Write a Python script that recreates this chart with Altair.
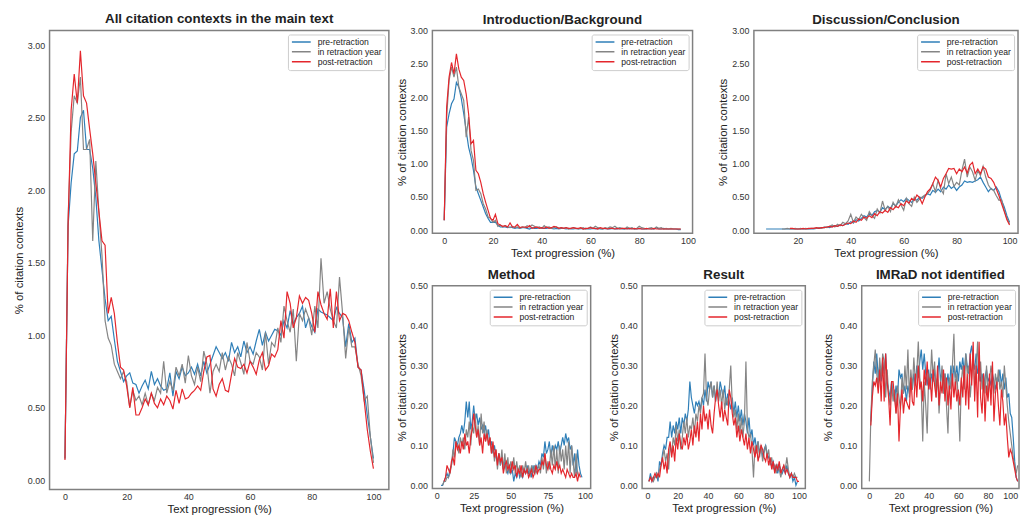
import altair as alt
import pandas as pd

FONT = "Liberation Sans"
SERIES = ["pre-retraction", "in retraction year", "post-retraction"]
COLORS = ["#2f7fb8", "#858585", "#e4262c"]
XTITLE = "Text progression (%)"
YTITLE = "% of citation contexts"

# ---------------- All citation contexts (x starts at 0) ----------------
main_start = [0, 0, 0]
main_pre = [0.15, 1.75, 2.05, 2.25, 2.27, 2.50, 2.55, 2.28, 2.28, 2.15, 1.95, 1.65, 1.45, 1.25, 1.10, 1.13, 0.97, 0.82, 0.75, 0.68,
            0.72, 0.74, 0.67, 0.66, 0.60, 0.65, 0.69, 0.63, 0.75, 0.66, 0.70, 0.65, 0.62, 0.63, 0.74, 0.58, 0.75, 0.70, 0.78, 0.72,
            0.74, 0.78, 0.73, 0.80, 0.72, 0.82, 0.74, 0.80, 0.86, 0.92, 0.88, 0.84, 0.88, 0.82, 0.95, 0.88, 0.92, 0.85, 0.96, 0.88,
            0.92, 0.87, 0.96, 1.04, 0.93, 1.02, 0.96, 1.00, 1.04, 1.03, 1.00, 1.10, 1.05, 1.17, 1.08, 1.12, 1.15, 1.20, 1.05, 1.12,
            1.06, 1.02, 1.18, 1.16, 1.15, 1.14, 1.12, 1.10, 1.19, 1.15, 1.12, 0.92, 1.08, 0.95, 0.98, 0.78, 0.76, 0.62, 0.45, 0.30, 0.15]
main_in = [0.15, 1.80, 2.40, 2.65, 2.60, 2.78, 2.28, 2.28, 2.35, 1.65, 2.20, 1.85, 1.55, 1.10, 0.98, 0.93, 0.80, 0.75, 0.70, 0.75,
           0.68, 0.50, 0.62, 0.55, 0.58, 0.52, 0.60, 0.52, 0.60, 0.55, 0.64, 0.60, 0.82, 0.60, 0.68, 0.62, 0.78, 0.72, 0.80, 0.67,
           0.86, 0.72, 0.66, 0.78, 0.68, 0.89, 0.80, 0.60, 0.75, 0.80, 0.75, 0.88, 0.76, 0.85, 0.80, 0.72, 0.88, 0.81, 0.73, 0.95,
           0.82, 0.80, 0.88, 0.85, 0.76, 1.02, 0.80, 0.95, 0.92, 1.05, 0.95, 1.20, 1.10, 1.02, 1.18, 0.82, 1.15, 1.10, 1.18, 1.12,
           1.00, 1.20, 1.05, 1.53, 1.22, 1.30, 1.18, 1.10, 1.05, 1.40, 1.15, 0.84, 1.05, 0.92, 0.92, 0.80, 0.72, 0.55, 0.58, 0.30, 0.12]
main_post = [0.14, 1.75, 2.55, 2.80, 2.60, 2.96, 2.65, 2.60, 2.42, 2.25, 2.05, 1.85, 1.65, 1.62, 1.15, 1.26, 1.15, 0.95, 0.78, 0.76,
             0.65, 0.50, 0.64, 0.45, 0.45, 0.50, 0.56, 0.52, 0.60, 0.53, 0.50, 0.56, 0.52, 0.58, 0.55, 0.49, 0.62, 0.53, 0.63, 0.56,
             0.57, 0.60, 0.62, 0.65, 0.62, 0.75, 0.85, 0.86, 0.63, 0.58, 0.66, 0.70, 0.62, 0.61, 0.73, 0.84, 0.78, 0.77, 0.80, 0.74,
             0.82, 0.78, 0.73, 0.83, 0.88, 0.76, 0.79, 0.87, 0.85, 0.90, 1.10, 0.98, 1.30, 1.22, 1.05, 1.12, 1.27, 1.22, 1.26, 1.24,
             1.15, 1.02, 1.30, 1.21, 1.15, 1.11, 1.32, 1.05, 1.30, 1.10, 1.15, 1.14, 1.10, 1.02, 0.95, 0.78, 0.76, 0.55, 0.35, 0.20, 0.08]

# ---------------- Introduction/Background (x starts at 0) ----------------
intro_start = [0, 0, 0]
intro_pre = [0.15, 1.55, 1.75, 1.90, 1.97, 2.22, 2.15, 1.98, 1.75, 1.50, 1.25, 1.10, 0.90, 0.65, 0.55, 0.45, 0.35, 0.25, 0.18, 0.12,
             0.12, 0.12, 0.08, 0.05, 0.05, 0.05, 0.04, 0.05, 0.04, 0.03, 0.04, 0.03, 0.04, 0.04, 0.03, 0.02, 0.04, 0.03, 0.03, 0.04,
             0.03, 0.03, 0.03, 0.04, 0.03, 0.02, 0.03, 0.02, 0.03, 0.03, 0.02, 0.03, 0.02, 0.02, 0.03, 0.02, 0.03, 0.02, 0.03, 0.02,
             0.02, 0.03, 0.02, 0.03, 0.02, 0.02, 0.03, 0.02, 0.02, 0.03, 0.02, 0.02, 0.03, 0.02, 0.02, 0.03, 0.02, 0.03, 0.02, 0.02,
             0.03, 0.02, 0.02, 0.02, 0.03, 0.02, 0.02, 0.04, 0.02, 0.02, 0.03, 0.02, 0.02, 0.02, 0.02, 0.02, 0.01, 0.01]
intro_in = [0.15, 1.70, 2.25, 2.45, 2.30, 2.45, 2.15, 2.05, 1.95, 1.40, 1.70, 1.20, 1.05, 0.60, 0.62, 0.55, 0.40, 0.32, 0.20, 0.18,
            0.12, 0.15, 0.06, 0.08, 0.05, 0.07, 0.05, 0.04, 0.06, 0.04, 0.05, 0.03, 0.05, 0.04, 0.07, 0.05, 0.08, 0.06, 0.04, 0.05,
            0.03, 0.07, 0.04, 0.05, 0.03, 0.04, 0.05, 0.03, 0.04, 0.03, 0.04, 0.02, 0.03, 0.04, 0.03, 0.02, 0.03, 0.04, 0.02, 0.03,
            0.05, 0.03, 0.06, 0.04, 0.03, 0.02, 0.04, 0.03, 0.05, 0.04, 0.06, 0.03, 0.04, 0.03, 0.02, 0.05, 0.03, 0.04, 0.02, 0.03,
            0.06, 0.04, 0.03, 0.02, 0.03, 0.04, 0.02, 0.05, 0.03, 0.04, 0.02, 0.03, 0.02, 0.03, 0.02, 0.02, 0.02, 0.02]
intro_post = [0.15, 1.85, 2.30, 2.52, 2.35, 2.65, 2.42, 2.30, 2.25, 2.05, 1.75, 1.30, 1.35, 0.90, 0.85, 0.72, 0.55, 0.42, 0.30, 0.18,
              0.15, 0.24, 0.10, 0.08, 0.06, 0.07, 0.05, 0.11, 0.05, 0.05, 0.09, 0.04, 0.05, 0.05, 0.04, 0.07, 0.03, 0.04, 0.05, 0.03,
              0.04, 0.03, 0.05, 0.03, 0.04, 0.06, 0.05, 0.03, 0.04, 0.03, 0.04, 0.03, 0.03, 0.04, 0.03, 0.03, 0.04, 0.02, 0.03, 0.03,
              0.04, 0.03, 0.03, 0.02, 0.04, 0.03, 0.03, 0.02, 0.03, 0.03, 0.02, 0.03, 0.02, 0.03, 0.03, 0.02, 0.03, 0.02, 0.03, 0.02,
              0.03, 0.02, 0.02, 0.03, 0.02, 0.02, 0.03, 0.02, 0.02, 0.02, 0.02, 0.02, 0.02, 0.02, 0.02, 0.02, 0.02, 0.02]

# ---------------- Discussion/Conclusion ----------------
disc_start = [8, 14, 17]
disc_pre = [0.02, 0.02, 0.02, 0.02, 0.02, 0.02, 0.02, 0.02, 0.02, 0.02, 0.02, 0.02, 0.02, 0.02, 0.02, 0.02, 0.02, 0.02,
            0.02, 0.03, 0.03, 0.04, 0.04, 0.05, 0.04, 0.06, 0.07, 0.06, 0.08, 0.07, 0.10, 0.09, 0.13, 0.11, 0.16, 0.14, 0.18, 0.22,
            0.20, 0.25, 0.22, 0.28, 0.30, 0.27, 0.34, 0.31, 0.36, 0.33, 0.40, 0.37, 0.42, 0.46, 0.43, 0.48, 0.45, 0.42, 0.47, 0.45,
            0.50, 0.48, 0.52, 0.55, 0.53, 0.60, 0.57, 0.62, 0.58, 0.65, 0.62, 0.68, 0.63, 0.66, 0.60, 0.65, 0.68, 0.74, 0.72, 0.73,
            0.72, 0.74, 0.76, 0.80, 0.72, 0.65, 0.58, 0.63, 0.60, 0.65, 0.58, 0.45, 0.35, 0.22, 0.12]
disc_in = [0.02, 0.02, 0.03, 0.02, 0.02, 0.03, 0.02, 0.03, 0.02, 0.03, 0.02, 0.03,
           0.03, 0.03, 0.04, 0.03, 0.05, 0.04, 0.06, 0.08, 0.05, 0.09, 0.07, 0.12, 0.10, 0.14, 0.24, 0.12, 0.20, 0.16, 0.24, 0.19,
           0.15, 0.28, 0.22, 0.18, 0.32, 0.26, 0.44, 0.30, 0.36, 0.28, 0.42, 0.35, 0.46, 0.38, 0.30, 0.48, 0.40, 0.36, 0.50, 0.42,
           0.47, 0.50, 0.53, 0.55, 0.60, 0.70, 0.58, 0.75, 0.62, 0.55, 0.85, 0.70, 0.80, 0.66, 0.72, 0.68, 0.90, 1.07, 0.80, 0.95,
           0.88, 0.75, 0.90, 0.82, 0.96, 0.80, 0.68, 0.62, 0.60, 0.52, 0.45, 0.46, 0.30, 0.18, 0.10]
disc_post = [0.03, 0.03, 0.02, 0.02, 0.02, 0.03, 0.02, 0.03, 0.03,
             0.03, 0.04, 0.03, 0.04, 0.04, 0.05, 0.06, 0.05, 0.07, 0.06, 0.08, 0.07, 0.09, 0.11, 0.10, 0.14, 0.12, 0.17, 0.15, 0.20,
             0.18, 0.22, 0.19, 0.25, 0.22, 0.28, 0.26, 0.30, 0.27, 0.34, 0.31, 0.36, 0.34, 0.40, 0.37, 0.44, 0.41, 0.48, 0.45, 0.53,
             0.49, 0.40, 0.50, 0.58, 0.62, 0.70, 0.80, 0.75, 0.65, 0.78, 0.85, 0.93, 0.92, 0.93, 0.85, 0.92, 0.88, 0.95, 0.86, 0.98,
             1.02, 0.85, 0.92, 0.85, 0.95, 0.92, 0.80, 0.78, 0.72, 0.62, 0.52, 0.40, 0.28, 0.16, 0.08]

# ---------------- Method ----------------
meth_start = [3, 4, 5]
meth_pre = [0.00, 0.00, 0.01, 0.02, 0.03, 0.02, 0.04, 0.05, 0.08, 0.12, 0.11, 0.10, 0.12, 0.13, 0.15, 0.13, 0.16, 0.21, 0.17, 0.21,
            0.14, 0.16, 0.20, 0.16, 0.18, 0.15, 0.17, 0.14, 0.15, 0.13, 0.15, 0.12, 0.14, 0.10, 0.11, 0.08, 0.10, 0.07, 0.06, 0.08,
            0.05, 0.07, 0.04, 0.06, 0.04, 0.03, 0.05, 0.03, 0.04, 0.01, 0.03, 0.02, 0.04, 0.02, 0.03, 0.02, 0.04, 0.03, 0.05, 0.03,
            0.04, 0.02, 0.05, 0.03, 0.05, 0.04, 0.06, 0.05, 0.08, 0.07, 0.11, 0.08, 0.09, 0.11, 0.07, 0.10, 0.08, 0.10, 0.09, 0.11,
            0.08, 0.10, 0.12, 0.10, 0.13, 0.11, 0.12, 0.09, 0.10, 0.05, 0.08, 0.03, 0.09, 0.05, 0.03, 0.02]
meth_in = [0.00, 0.01, 0.01, 0.02, 0.02, 0.03, 0.05, 0.09, 0.07, 0.11, 0.10, 0.08, 0.12, 0.10, 0.12, 0.09, 0.14, 0.12, 0.16, 0.10,
           0.15, 0.13, 0.18, 0.12, 0.15, 0.10, 0.18, 0.13, 0.16, 0.11, 0.14, 0.10, 0.12, 0.08, 0.10, 0.06, 0.09, 0.04, 0.08, 0.05,
           0.09, 0.04, 0.08, 0.03, 0.07, 0.03, 0.06, 0.04, 0.07, 0.03, 0.06, 0.03, 0.05, 0.02, 0.05, 0.03, 0.06, 0.03, 0.05, 0.02,
           0.05, 0.03, 0.05, 0.03, 0.04, 0.05, 0.03, 0.07, 0.04, 0.08, 0.03, 0.06, 0.04, 0.09, 0.05, 0.10, 0.04, 0.09, 0.03, 0.10,
           0.06, 0.09, 0.04, 0.10, 0.05, 0.11, 0.03, 0.10, 0.06, 0.02, 0.08, 0.03, 0.02]
meth_post = [0.01, 0.02, 0.05, 0.04, 0.03, 0.06, 0.07, 0.05, 0.11, 0.09, 0.10, 0.08, 0.11, 0.09, 0.13, 0.10, 0.11, 0.08, 0.12, 0.14,
             0.18, 0.15, 0.12, 0.14, 0.10, 0.12, 0.08, 0.13, 0.11, 0.13, 0.10, 0.12, 0.08, 0.11, 0.07, 0.09, 0.05, 0.08, 0.06, 0.07,
             0.03, 0.05, 0.06, 0.04, 0.05, 0.03, 0.06, 0.04, 0.05, 0.02, 0.04, 0.03, 0.05, 0.02, 0.04, 0.03, 0.04, 0.02, 0.03, 0.04,
             0.02, 0.03, 0.05, 0.03, 0.04, 0.04, 0.06, 0.05, 0.08, 0.05, 0.04, 0.06, 0.04, 0.03, 0.05, 0.04, 0.06, 0.04, 0.05, 0.03,
             0.04, 0.03, 0.02, 0.04, 0.03, 0.02, 0.03, 0.02, 0.02, 0.03, 0.01, 0.03, 0.02]

# ---------------- Result ----------------
res_start = [1, 1, 1]
res_pre = [0.01, 0.03, 0.01, 0.02, 0.02, 0.03, 0.01, 0.06, 0.05, 0.08, 0.10, 0.09, 0.12, 0.12, 0.16, 0.12, 0.15, 0.13, 0.16, 0.14,
           0.17, 0.13, 0.17, 0.15, 0.18, 0.16, 0.19, 0.26, 0.22, 0.20, 0.18, 0.21, 0.20, 0.21, 0.19, 0.22, 0.20, 0.24, 0.21, 0.26,
           0.24, 0.26, 0.22, 0.25, 0.21, 0.24, 0.22, 0.26, 0.24, 0.22, 0.25, 0.20, 0.23, 0.21, 0.19, 0.22, 0.18, 0.21, 0.17, 0.20,
           0.16, 0.19, 0.15, 0.18, 0.16, 0.13, 0.17, 0.12, 0.14, 0.10, 0.12, 0.09, 0.11, 0.08, 0.10, 0.07, 0.09, 0.10, 0.08, 0.07,
           0.06, 0.05, 0.06, 0.04, 0.05, 0.03, 0.05, 0.04, 0.03, 0.04, 0.03, 0.05, 0.03, 0.02, 0.03, 0.01, 0.02, 0.00, 0.01]
res_in = [0.01, 0.02, 0.02, 0.01, 0.02, 0.03, 0.02, 0.04, 0.05, 0.07, 0.09, 0.06, 0.08, 0.04, 0.10, 0.08, 0.12, 0.10, 0.15, 0.11,
          0.14, 0.09, 0.12, 0.16, 0.13, 0.17, 0.12, 0.15, 0.14, 0.17, 0.13, 0.18, 0.16, 0.20, 0.18, 0.22, 0.23, 0.33, 0.22, 0.20,
          0.24, 0.26, 0.22, 0.25, 0.21, 0.26, 0.21, 0.24, 0.20, 0.24, 0.19, 0.22, 0.20, 0.24, 0.30, 0.20, 0.17, 0.19, 0.14, 0.18,
          0.13, 0.17, 0.12, 0.16, 0.31, 0.14, 0.12, 0.13, 0.09, 0.02, 0.10, 0.08, 0.11, 0.07, 0.10, 0.06, 0.08, 0.10, 0.07, 0.09,
          0.05, 0.07, 0.04, 0.05, 0.03, 0.05, 0.04, 0.02, 0.04, 0.05, 0.04, 0.07, 0.04, 0.02, 0.03, 0.02, 0.03, 0.02, 0.02]
res_post = [0.01, 0.02, 0.01, 0.02, 0.03, 0.02, 0.03, 0.02, 0.05, 0.07, 0.04, 0.06, 0.03, 0.09, 0.11, 0.07, 0.10, 0.06, 0.12, 0.09,
            0.13, 0.10, 0.09, 0.12, 0.10, 0.13, 0.09, 0.11, 0.14, 0.10, 0.15, 0.12, 0.16, 0.11, 0.18, 0.14, 0.20, 0.16, 0.18, 0.14,
            0.19, 0.15, 0.13, 0.18, 0.22, 0.24, 0.20, 0.17, 0.21, 0.16, 0.19, 0.17, 0.15, 0.24, 0.22, 0.18, 0.15, 0.17, 0.12, 0.15,
            0.11, 0.14, 0.12, 0.10, 0.13, 0.09, 0.12, 0.08, 0.11, 0.09, 0.07, 0.10, 0.06, 0.08, 0.10, 0.09, 0.07, 0.06, 0.08, 0.05,
            0.07, 0.04, 0.06, 0.03, 0.05, 0.04, 0.06, 0.03, 0.04, 0.05, 0.03, 0.04, 0.03, 0.02, 0.03, 0.02, 0.02, 0.02, 0.01, 0.01]

# ---------------- IMRaD not identified ----------------
imr_start = [1, 0, 1]
imr_pre = [0.16, 0.24, 0.31, 0.28, 0.33, 0.27, 0.30, 0.26, 0.31, 0.28, 0.33, 0.26, 0.24, 0.22, 0.26, 0.23, 0.21, 0.25, 0.22, 0.29,
           0.27, 0.28, 0.23, 0.25, 0.21, 0.25, 0.23, 0.26, 0.24, 0.28, 0.25, 0.30, 0.27, 0.31, 0.34, 0.29, 0.33, 0.28, 0.25, 0.29,
           0.24, 0.28, 0.26, 0.29, 0.25, 0.27, 0.32, 0.26, 0.29, 0.23, 0.28, 0.25, 0.28, 0.24, 0.30, 0.26, 0.30, 0.27, 0.30, 0.26,
           0.31, 0.29, 0.32, 0.28, 0.33, 0.30, 0.28, 0.33, 0.35, 0.31, 0.29, 0.33, 0.28, 0.30, 0.26, 0.28, 0.25, 0.27, 0.29, 0.26,
           0.27, 0.25, 0.28, 0.26, 0.24, 0.27, 0.26, 0.29, 0.25, 0.28, 0.24, 0.27, 0.22, 0.23, 0.18, 0.17, 0.12, 0.06, 0.02, 0.01]
imr_in = [0.01, 0.17, 0.26, 0.30, 0.34, 0.28, 0.25, 0.32, 0.27, 0.33, 0.31, 0.22, 0.29, 0.23, 0.20, 0.26, 0.21, 0.24, 0.18, 0.25,
          0.22, 0.19, 0.27, 0.23, 0.30, 0.24, 0.34, 0.22, 0.29, 0.24, 0.32, 0.26, 0.28, 0.36, 0.27, 0.24, 0.11, 0.26, 0.20, 0.13,
          0.28, 0.25, 0.34, 0.27, 0.31, 0.22, 0.28, 0.18, 0.25, 0.30, 0.23, 0.28, 0.20, 0.13, 0.27, 0.24, 0.30, 0.38, 0.24, 0.28,
          0.21, 0.11, 0.26, 0.30, 0.24, 0.33, 0.28, 0.30, 0.22, 0.27, 0.33, 0.25, 0.29, 0.36, 0.26, 0.31, 0.24, 0.28, 0.23, 0.30,
          0.22, 0.26, 0.30, 0.27, 0.23, 0.28, 0.25, 0.29, 0.24, 0.26, 0.22, 0.30, 0.25, 0.20, 0.16, 0.13, 0.10, 0.07, 0.05, 0.03, 0.05]
imr_post = [0.15, 0.22, 0.26, 0.25, 0.27, 0.23, 0.29, 0.21, 0.32, 0.21, 0.33, 0.26, 0.22, 0.15, 0.26, 0.26, 0.22, 0.18, 0.23, 0.11,
            0.20, 0.24, 0.18, 0.22, 0.21, 0.20, 0.19, 0.27, 0.21, 0.20, 0.28, 0.22, 0.30, 0.24, 0.26, 0.21, 0.29, 0.25, 0.31, 0.24,
            0.27, 0.21, 0.29, 0.25, 0.22, 0.30, 0.20, 0.26, 0.23, 0.29, 0.21, 0.27, 0.20, 0.25, 0.19, 0.28, 0.22, 0.26, 0.21, 0.24,
            0.20, 0.27, 0.22, 0.30, 0.20, 0.28, 0.19, 0.33, 0.25, 0.36, 0.21, 0.30, 0.17, 0.36, 0.22, 0.18, 0.28, 0.16, 0.25, 0.21,
            0.28, 0.20, 0.31, 0.16, 0.23, 0.26, 0.20, 0.15, 0.24, 0.21, 0.15, 0.18, 0.12, 0.07, 0.09, 0.08, 0.06, 0.04, 0.02, 0.01]


def frame(starts, arrays):
    rows = []
    for name, s, arr in zip(SERIES, starts, arrays):
        for i, v in enumerate(arr):
            rows.append({"x": s + i, "y": v, "series": name})
    return pd.DataFrame(rows)


legend = alt.Legend(
    title=None, orient="top-right", offset=4, symbolType="stroke", symbolSize=361,
    symbolStrokeWidth=1.5, labelFont=FONT, labelFontSize=8.7, labelColor="#222222",
    clipHeight=9, rowPadding=0, padding=3, fillColor="white", strokeColor="#cccccc",
    cornerRadius=2, labelOffset=6, labelLimit=200,
)


def panel(title, df, xdom, xticks, ydom, yticks, w, h, toff=0.5, ytp=3, xflush=False):
    xaxis = alt.Axis(values=xticks, format="d", title=XTITLE)
    if xflush:
        xaxis = alt.Axis(values=xticks, format="d", title=XTITLE, labelFlush=4)
    return (
        alt.Chart(df, title=alt.TitleParams(title, offset=toff))
        .mark_line(strokeWidth=1.2, clip=True)
        .encode(
            x=alt.X("x:Q", scale=alt.Scale(domain=xdom, nice=False, zero=False), axis=xaxis),
            y=alt.Y("y:Q", scale=alt.Scale(domain=ydom, nice=False, zero=False),
                    axis=alt.Axis(values=yticks, format=".2f", title=YTITLE, titlePadding=ytp)),
            color=alt.Color("series:N", scale=alt.Scale(domain=SERIES, range=COLORS), legend=legend),
        )
        .properties(width=w, height=h)
    )


big_y = [0, 0.5, 1.0, 1.5, 2.0, 2.5, 3.0]
small_y = [0, 0.1, 0.2, 0.3, 0.4, 0.5]
x20 = [0, 20, 40, 60, 80, 100]

main = panel("All citation contexts in the main text", frame(main_start, [main_pre, main_in, main_post]),
             [-5, 105], x20, [-0.064, 3.10], big_y, 343, 464, toff=5)
intro = panel("Introduction/Background", frame(intro_start, [intro_pre, intro_in, intro_post]),
              [-4.85, 101.85], x20, [-0.045, 3.0], big_y, 263, 205)
disc = panel("Discussion/Conclusion", frame(disc_start, [disc_pre, disc_in, disc_post]),
             [3.4, 103.2], [20, 40, 60, 80, 100], [-0.045, 3.0], big_y, 267, 205)
meth = panel("Method", frame(meth_start, [meth_pre, meth_in, meth_post]),
             [-2.85, 103.85], [0, 25, 50, 75, 100], [-0.008, 0.5], small_y, 160, 205)
res = panel("Result", frame(res_start, [res_pre, res_in, res_post]),
            [-3.5, 104.2], x20, [-0.008, 0.5], small_y, 165, 205, ytp=0)
imr = panel("IMRaD not identified", frame(imr_start, [imr_pre, imr_in, imr_post]),
            [-5.13, 100.9], x20, [-0.008, 0.5], small_y, 159, 205, ytp=6.5, xflush=True)

top_row = alt.hconcat(intro, disc, spacing=20).resolve_legend(color="independent")
bottom_row = alt.hconcat(meth, res, imr, spacing=14).resolve_legend(color="independent")
right = alt.vconcat(top_row, bottom_row, spacing=7).resolve_legend(color="independent")

chart = (
    alt.hconcat(main, right, spacing=5)
    .resolve_legend(color="independent")
    .properties(padding={"left": 4, "top": 0, "right": 0, "bottom": 0})
    .configure_view(stroke="#808080", strokeWidth=1.5)
    .configure_axis(ticks=False, domain=False, grid=False, labelFont=FONT, labelFontSize=9,
                    labelColor="#333333", titleFont=FONT, titleFontSize=11.5,
                    titleFontWeight="normal", titleColor="#222222")
    .configure_axisX(labelPadding=3, titlePadding=2)
    .configure_axisY(labelPadding=5)
    .configure_title(font=FONT, fontSize=13.5, fontWeight="bold", color="#222222",
                     anchor="middle", frame="group")
    .configure_legend(labelFont=FONT)
)

chart.save("out.html", embed_options={"renderer": "svg", "actions": False})
